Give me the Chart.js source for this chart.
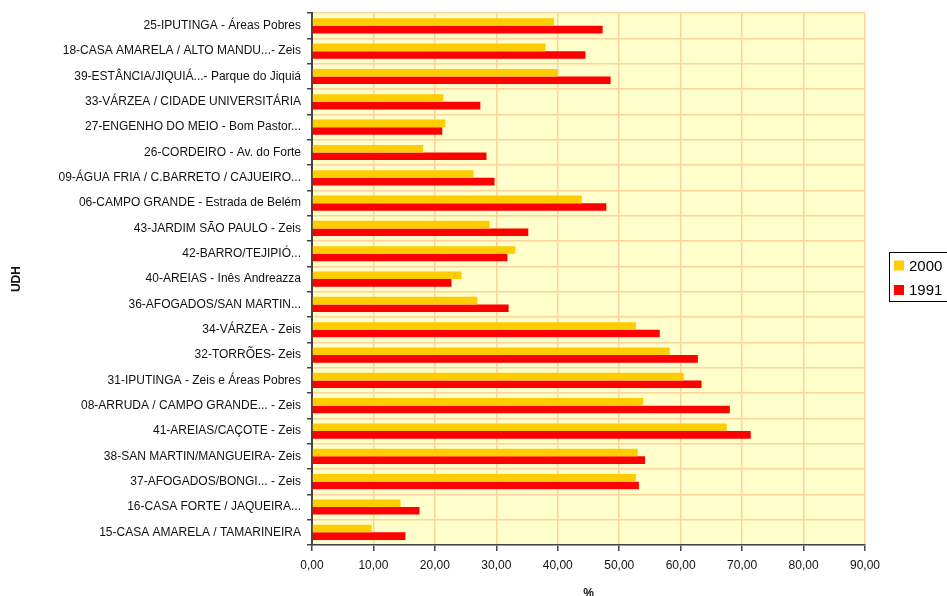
<!DOCTYPE html>
<html>
<head>
<meta charset="utf-8">
<script src="https://cdn.jsdelivr.net/npm/chart.js@4/dist/chart.umd.min.js"></script>
<style>
  html, body { margin: 0; padding: 0; background: #ffffff; }
  #wrap { width: 947px; height: 596px; position: relative; }
</style>
</head>
<body>
<div id="wrap"><canvas id="c" width="947" height="596"></canvas></div>
<script>
// UDH labels (top to bottom)
const categories = [
  "25-IPUTINGA - Áreas Pobres",
  "18-CASA AMARELA / ALTO MANDU...- Zeis",
  "39-ESTÂNCIA/JIQUIÁ...- Parque do Jiquiá",
  "33-VÁRZEA / CIDADE UNIVERSITÁRIA",
  "27-ENGENHO DO MEIO - Bom Pastor...",
  "26-CORDEIRO - Av. do Forte",
  "09-ÁGUA FRIA / C.BARRETO / CAJUEIRO...",
  "06-CAMPO GRANDE - Estrada de Belém",
  "43-JARDIM SÃO PAULO - Zeis",
  "42-BARRO/TEJIPIÓ...",
  "40-AREIAS - Inês Andreazza",
  "36-AFOGADOS/SAN MARTIN...",
  "34-VÁRZEA - Zeis",
  "32-TORRÕES- Zeis",
  "31-IPUTINGA - Zeis e Áreas Pobres",
  "08-ARRUDA / CAMPO GRANDE... - Zeis",
  "41-AREIAS/CAÇOTE - Zeis",
  "38-SAN MARTIN/MANGUEIRA- Zeis",
  "37-AFOGADOS/BONGI... - Zeis",
  "16-CASA FORTE / JAQUEIRA...",
  "15-CASA AMARELA / TAMARINEIRA"
];

const values2000 = [39.4, 38.0, 40.0, 21.4, 21.7, 18.1, 26.3, 43.9, 28.9, 33.1, 24.3,
                    26.9, 52.7, 58.2, 60.5, 53.9, 67.5, 53.0, 52.7, 14.4, 9.7];
const values1991 = [47.3, 44.5, 48.6, 27.4, 21.2, 28.4, 29.7, 47.9, 35.2, 31.8, 22.7,
                    32.0, 56.6, 62.8, 63.4, 68.0, 71.4, 54.2, 53.2, 17.5, 15.2];

const seriesNames = ["2000", "1991"];
const xTicks = [0, 10, 20, 30, 40, 50, 60, 70, 80, 90];

const FONT = "'Liberation Sans', Arial, sans-serif";
const GRID = "#FFD29C";
const AXIS = "#444444";
const TEXT = "#111111";

// plot-area background
const plotBg = {
  id: "plotBg",
  beforeDraw(chart) {
    const a = chart.chartArea, ctx = chart.ctx;
    ctx.save();
    ctx.fillStyle = "#FFFFCC";
    ctx.fillRect(a.left, a.top, a.right - a.left, a.bottom - a.top);
    ctx.restore();
  }
};

// boxed legend on the right
const boxLegend = {
  id: "boxLegend",
  afterDraw(chart) {
    const ctx = chart.ctx;
    const x = 889, y = 252, w = 70, h = 49;
    ctx.save();
    ctx.fillStyle = "#ffffff";
    ctx.fillRect(x, y, w, h);
    ctx.strokeStyle = "#000000";
    ctx.lineWidth = 1;
    ctx.strokeRect(x + 0.5, y + 0.5, w, h);
    ctx.font = "15px " + FONT;
    ctx.textBaseline = "middle";
    chart.data.datasets.forEach((ds, i) => {
      const cy = y + 13.5 + i * 24.5;
      ctx.fillStyle = ds.backgroundColor;
      ctx.fillRect(x + 5, cy - 5, 10, 10);
      ctx.fillStyle = "#000000";
      ctx.fillText(ds.label, x + 20, cy + 1);
    });
    ctx.restore();
  }
};

new Chart(document.getElementById("c"), {
  type: "bar",
  data: {
    labels: categories,
    datasets: [
      { label: seriesNames[0], data: values2000, backgroundColor: "#FFCC00" },
      { label: seriesNames[1], data: values1991, backgroundColor: "#FF0000" }
    ]
  },
  options: {
    indexAxis: "y",
    responsive: false,
    animation: false,
    devicePixelRatio: 1,
    layout: { padding: { left: 0, right: 82, top: 10, bottom: 0 } },
    datasets: { bar: { categoryPercentage: 0.6, barPercentage: 1.0, borderWidth: 0 } },
    plugins: {
      legend: { display: false },
      tooltip: { enabled: false }
    },
    scales: {
      x: {
        type: "linear",
        min: 0,
        max: 90,
        afterBuildTicks(scale) { scale.ticks = xTicks.map(v => ({ value: v })); },
        afterFit(scale) { scale.height = 51; },
        ticks: {
          color: TEXT,
          font: { family: FONT, size: 12 },
          padding: 7,
          callback: v => v.toFixed(2).replace(".", ",")
        },
        grid: { color: GRID, lineWidth: 1.5, tickColor: AXIS, tickLength: 6, drawTicks: true },
        border: { color: AXIS, width: 1.5 },
        title: {
          display: true, text: "%", color: TEXT,
          font: { family: FONT, size: 12, weight: "bold" },
          padding: { top: 0, bottom: -5 }
        }
      },
      y: {
        type: "category",
        offset: true,
        afterFit(scale) { scale.width = 312; },
        ticks: {
          color: TEXT,
          font: { family: FONT, size: 12 },
          padding: 6,
          autoSkip: false
        },
        grid: { color: GRID, lineWidth: 1.5, offset: true, tickColor: AXIS, tickLength: 5 },
        border: { color: AXIS, width: 2 },
        title: {
          display: true, text: "UDH", color: TEXT,
          font: { family: FONT, size: 12, weight: "bold" },
          padding: { top: 9, bottom: 0 }
        }
      }
    }
  },
  plugins: [plotBg, boxLegend]
});
</script>
</body>
</html>
